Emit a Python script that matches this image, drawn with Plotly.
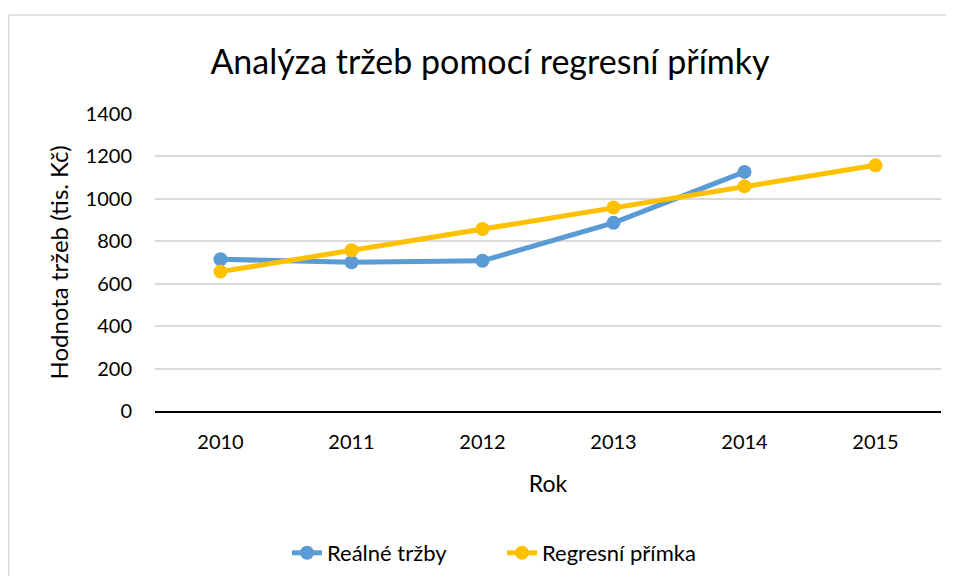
import plotly.graph_objects as go

years = ["2010", "2011", "2012", "2013", "2014", "2015"]
real_years = ["2010", "2011", "2012", "2013", "2014"]
real_sales = [715, 701, 708, 887, 1127]
regression = [657, 758, 858, 959, 1059, 1158]
y_ticks = [0, 200, 400, 600, 800, 1000, 1200, 1400]

# page body has an 8px margin, so figure coords = page coords - 8
W, H = 938, 568
L, R, T, B = 147, 933, 106, 403
pw, ph = R - L, B - T

fig = go.Figure()
fig.add_trace(go.Scatter(
    x=real_years, y=real_sales, name="Reálné tržby", mode="lines+markers",
    line=dict(color="#5B9BD5", width=5), marker=dict(size=14, color="#5B9BD5")))
fig.add_trace(go.Scatter(
    x=years, y=regression, name="Regresní přímka", mode="lines+markers",
    line=dict(color="#FFC000", width=5), marker=dict(size=14, color="#FFC000")))

border = dict(color="#d9d9d9", width=1.5)
fig.update_layout(
    width=W, height=H,
    margin=dict(l=L, r=W - R, t=T, b=H - B, autoexpand=False),
    paper_bgcolor="white", plot_bgcolor="white",
    font=dict(family="Lato", size=20, color="#000000"),
    title=dict(text="Analýza tržeb pomocí regresní přímky", x=482 / W, xanchor="center",
               y=1 - 54 / H, yanchor="middle", font=dict(size=34)),
    xaxis=dict(type="category", range=[-0.5, 5.5], showgrid=False, showline=True,
               linecolor="black", linewidth=2, ticks="", ticklabelstandoff=12,
               title=dict(text="Rok", standoff=24, font=dict(size=23))),
    yaxis=dict(range=[0, 1400], tickvals=y_ticks, showgrid=True, gridcolor="#d9d9d9",
               gridwidth=1.5, zeroline=False, showline=False, ticks="",
               ticklabelstandoff=22,
               title=dict(text="Hodnota tržeb (tis. Kč)", standoff=10, font=dict(size=24))),
    legend=dict(orientation="h", x=(494 - L) / pw, xanchor="center",
                y=(B - 545) / ph, yanchor="middle", font=dict(size=22),
                entrywidth=170, entrywidthmode="pixels"),
    showlegend=True,
    shapes=[
        dict(type="line", xref="paper", yref="paper",
             x0=(0.75 - L) / pw, x1=(0.75 - L) / pw, y0=(B - 700) / ph, y1=(B - 7) / ph,
             line=border, layer="below"),
        dict(type="line", xref="paper", yref="paper",
             x0=(0.75 - L) / pw, x1=(1000 - L) / pw, y0=(B - 7) / ph, y1=(B - 7) / ph,
             line=border, layer="below"),
    ],
)

fig.write_html("out.html")
